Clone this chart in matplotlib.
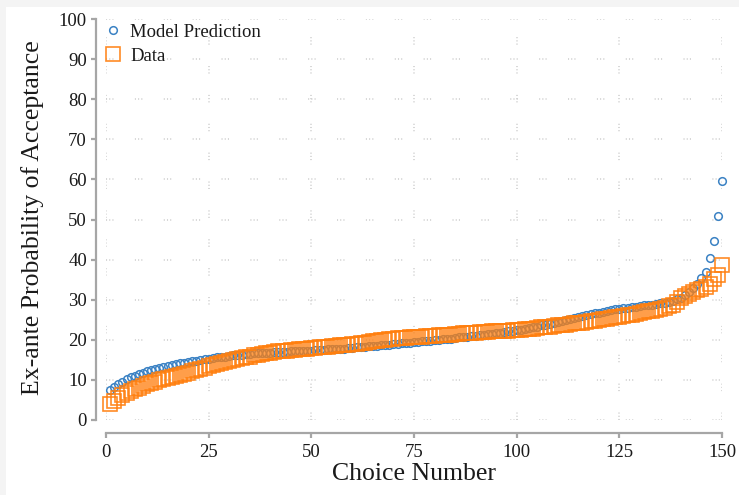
import matplotlib
matplotlib.use("Agg")
import matplotlib.pyplot as plt
from matplotlib.patches import Rectangle

plt.rcParams['font.family'] = ['Liberation Serif', 'DejaVu Serif']

# Choice index (sorted by probability)
choice_number = list(range(1, 151))

# Model-predicted ex-ante probability of acceptance (%)
model_prediction = [
    7.4, 8.3, 9.0, 9.6, 10.1, 10.6, 11.0, 11.4, 11.8, 12.1,
    12.4, 12.7, 12.9, 13.2, 13.4, 13.6, 13.9, 14.1, 14.3, 14.4,
    14.6, 14.8, 15.0, 15.1, 15.3, 15.4, 15.6, 15.7, 15.8, 16.0,
    16.1, 16.2, 16.3, 16.4, 16.5, 16.6, 16.6, 16.7, 16.8, 16.8,
    16.9, 16.9, 17.0, 17.0, 17.1, 17.1, 17.2, 17.2, 17.3, 17.3,
    17.4, 17.4, 17.5, 17.6, 17.6, 17.7, 17.8, 17.8, 17.9, 18.0,
    18.1, 18.2, 18.3, 18.4, 18.5, 18.5, 18.6, 18.7, 18.8, 18.9,
    19.0, 19.1, 19.2, 19.3, 19.4, 19.5, 19.6, 19.7, 19.8, 19.9,
    20.0, 20.1, 20.2, 20.3, 20.4, 20.6, 20.7, 20.8, 20.9, 21.0,
    21.1, 21.3, 21.4, 21.5, 21.7, 21.8, 21.9, 22.1, 22.2, 22.4,
    22.5, 22.7, 22.9, 23.1, 23.3, 23.6, 23.8, 24.0, 24.3, 24.5,
    24.8, 25.0, 25.3, 25.5, 25.8, 26.0, 26.2, 26.4, 26.6, 26.8,
    27.0, 27.2, 27.4, 27.6, 27.8, 27.9, 28.0, 28.2, 28.3, 28.5,
    28.6, 28.7, 28.8, 29.0, 29.1, 29.3, 29.5, 29.8, 30.1, 30.5,
    31.2, 32.0, 33.0, 34.0, 35.3, 37.0, 40.3, 44.7, 50.9, 59.6,
]

# Observed acceptance rates (%)
data_values = [
    3.9, 4.8, 5.6, 6.2, 6.7, 7.2, 7.7, 8.1, 8.5, 8.9,
    9.2, 9.6, 9.9, 10.2, 10.5, 10.8, 11.0, 11.3, 11.5, 11.8,
    12.1, 12.4, 12.7, 13.0, 13.4, 13.7, 14.0, 14.2, 14.4, 14.6,
    14.9, 15.1, 15.4, 15.6, 15.8, 16.1, 16.3, 16.5, 16.7, 16.8,
    17.0, 17.1, 17.2, 17.3, 17.4, 17.5, 17.6, 17.7, 17.8, 17.9,
    18.0, 18.1, 18.2, 18.3, 18.4, 18.5, 18.6, 18.7, 18.8, 18.9,
    19.0, 19.2, 19.3, 19.5, 19.6, 19.8, 19.9, 20.0, 20.1, 20.3,
    20.4, 20.5, 20.5, 20.6, 20.7, 20.8, 20.8, 20.9, 21.0, 21.0,
    21.1, 21.2, 21.3, 21.3, 21.4, 21.5, 21.6, 21.7, 21.7, 21.8,
    21.9, 21.9, 22.0, 22.1, 22.1, 22.2, 22.3, 22.3, 22.4, 22.4,
    22.5, 22.6, 22.7, 22.8, 23.0, 23.1, 23.2, 23.3, 23.5, 23.6,
    23.7, 23.8, 23.9, 24.1, 24.2, 24.3, 24.5, 24.6, 24.8, 25.0,
    25.1, 25.3, 25.4, 25.6, 25.8, 25.9, 26.1, 26.3, 26.5, 26.7,
    26.9, 27.1, 27.3, 27.5, 27.7, 28.0, 28.4, 28.8, 29.5, 30.5,
    31.0, 31.5, 32.0, 32.3, 32.6, 33.2, 34.0, 35.2, 36.2, 38.7,
]

x_ticks = [0, 25, 50, 75, 100, 125, 150]
y_ticks = [0, 10, 20, 30, 40, 50, 60, 70, 80, 90, 100]

W, H = 739, 495
fig = plt.figure(figsize=(W / 100, H / 100), dpi=100, facecolor='#f4f4f4')
fig.patches.append(Rectangle((6 / W, 0), 1 - 6 / W, 1 - 7 / H,
                             transform=fig.transFigure, facecolor='white',
                             edgecolor='none', zorder=-10))

ax = fig.add_axes([106 / W, 75 / H, 616 / W, 401 / H])
ax.set_facecolor('white')
ax.set_xlim(0, 150)
ax.set_ylim(0, 100)

grid_style = dict(color='#cccccc', linewidth=1.1,
                  linestyle=(0, (0.7, 1.4, 0.7, 1.4, 0.7, 14.0)), zorder=1)
for yv in y_ticks:
    ax.axhline(yv, **grid_style)
for xv in x_ticks:
    ax.axvline(xv, **grid_style)

ax.plot(choice_number, model_prediction, linestyle='none', marker='o',
        markersize=5.5, markerfacecolor='none', markeredgecolor='#3b82c4',
        markeredgewidth=1.1, label='Model Prediction', zorder=3, clip_on=False)
ax.plot(choice_number, data_values, linestyle='none', marker='s',
        markersize=9.5, markerfacecolor='none', markeredgecolor='#ff7f0e',
        markeredgewidth=1.2, alpha=0.9, label='Data', zorder=4, clip_on=False)

spine_color = '#a6a6a6'
for side in ('top', 'right'):
    ax.spines[side].set_visible(False)
ax.spines['left'].set_position(('outward', 7.2))
ax.spines['bottom'].set_position(('outward', 9.0))
ax.spines['left'].set_bounds(0, 100)
ax.spines['bottom'].set_bounds(0, 150)
for side in ('left', 'bottom'):
    ax.spines[side].set_color(spine_color)
    ax.spines[side].set_linewidth(1.6)

ax.set_xticks(x_ticks)
ax.set_yticks(y_ticks)
ax.tick_params(axis='both', colors=spine_color, width=1.6, length=3.5,
               labelcolor='#1a1a1a', labelsize=13.5)
ax.tick_params(axis='x', pad=5)
ax.tick_params(axis='y', pad=3)

fig.text(414 / W, 1 - 480 / H, 'Choice Number', ha='center', va='baseline',
         fontsize=18.5, color='#1a1a1a')
fig.text(33 / W, 1 - 218 / H, 'Ex-ante Probability of Acceptance',
         ha='center', va='center', rotation=90, fontsize=18.5, color='#1a1a1a')

leg = ax.legend(loc='upper left', bbox_to_anchor=(-0.016, 1.0065), frameon=False,
                fontsize=13.5, handlelength=1.0, handletextpad=0.41,
                labelspacing=0.36, borderaxespad=0.0, numpoints=1)
for t in leg.get_texts():
    t.set_color('#1a1a1a')

fig.savefig('out.png', dpi=100, facecolor=fig.get_facecolor())
